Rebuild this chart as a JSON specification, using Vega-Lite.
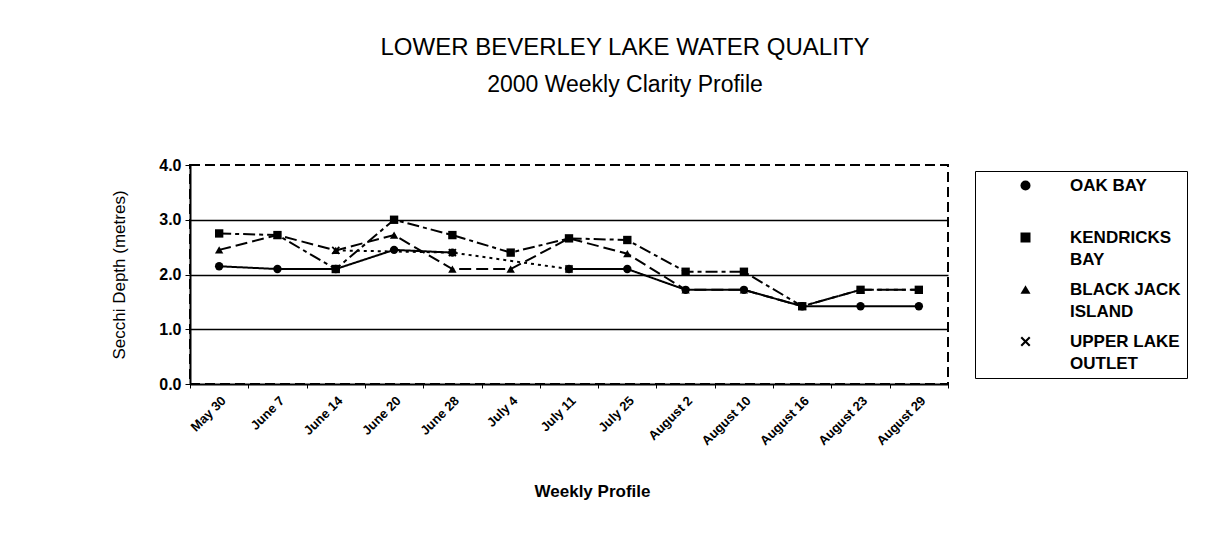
{
  "$schema": "https://vega.github.io/schema/vega-lite/v6.json",
  "width": 758,
  "height": 219,
  "autosize": {"type": "none"},
  "padding": {"left": 190, "top": 165, "right": 278, "bottom": 168},
  "background": "white",
  "title": {
    "text": "LOWER BEVERLEY LAKE WATER QUALITY",
    "subtitle": "2000 Weekly Clarity Profile",
    "font": "Liberation Sans",
    "fontSize": 24,
    "fontWeight": "normal",
    "color": "black",
    "subtitleFont": "Liberation Sans",
    "subtitleFontSize": 23,
    "subtitleColor": "black",
    "anchor": "middle",
    "frame": "group",
    "dx": 56,
    "offset": 60,
    "subtitlePadding": 14
  },
  "data": {
    "values": [
      {"week": "May 30", "site": "OAK BAY", "depth": 2.15},
      {"week": "June 7", "site": "OAK BAY", "depth": 2.1},
      {"week": "June 14", "site": "OAK BAY", "depth": 2.1},
      {"week": "June 20", "site": "OAK BAY", "depth": 2.45},
      {"week": "June 28", "site": "OAK BAY", "depth": 2.4},
      {"week": "July 4", "site": "OAK BAY", "depth": null},
      {"week": "July 11", "site": "OAK BAY", "depth": 2.1},
      {"week": "July 25", "site": "OAK BAY", "depth": 2.1},
      {"week": "August 2", "site": "OAK BAY", "depth": 1.72},
      {"week": "August 10", "site": "OAK BAY", "depth": 1.72},
      {"week": "August 16", "site": "OAK BAY", "depth": 1.42},
      {"week": "August 23", "site": "OAK BAY", "depth": 1.42},
      {"week": "August 29", "site": "OAK BAY", "depth": 1.42},
      {"week": "May 30", "site": "KENDRICKS BAY", "depth": 2.75},
      {"week": "June 7", "site": "KENDRICKS BAY", "depth": 2.72},
      {"week": "June 14", "site": "KENDRICKS BAY", "depth": 2.1},
      {"week": "June 20", "site": "KENDRICKS BAY", "depth": 3.0},
      {"week": "June 28", "site": "KENDRICKS BAY", "depth": 2.72},
      {"week": "July 4", "site": "KENDRICKS BAY", "depth": 2.4},
      {"week": "July 11", "site": "KENDRICKS BAY", "depth": 2.66},
      {"week": "July 25", "site": "KENDRICKS BAY", "depth": 2.63},
      {"week": "August 2", "site": "KENDRICKS BAY", "depth": 2.05},
      {"week": "August 10", "site": "KENDRICKS BAY", "depth": 2.05},
      {"week": "August 16", "site": "KENDRICKS BAY", "depth": 1.42},
      {"week": "August 23", "site": "KENDRICKS BAY", "depth": 1.72},
      {"week": "August 29", "site": "KENDRICKS BAY", "depth": 1.72},
      {"week": "May 30", "site": "BLACK JACK ISLAND", "depth": 2.45},
      {"week": "June 7", "site": "BLACK JACK ISLAND", "depth": 2.72},
      {"week": "June 14", "site": "BLACK JACK ISLAND", "depth": 2.44},
      {"week": "June 20", "site": "BLACK JACK ISLAND", "depth": 2.72},
      {"week": "June 28", "site": "BLACK JACK ISLAND", "depth": 2.1},
      {"week": "July 4", "site": "BLACK JACK ISLAND", "depth": 2.1},
      {"week": "July 11", "site": "BLACK JACK ISLAND", "depth": 2.66},
      {"week": "July 25", "site": "BLACK JACK ISLAND", "depth": 2.38},
      {"week": "August 2", "site": "BLACK JACK ISLAND", "depth": 1.72},
      {"week": "August 10", "site": "BLACK JACK ISLAND", "depth": 1.72},
      {"week": "August 16", "site": "BLACK JACK ISLAND", "depth": 1.42},
      {"week": "August 23", "site": "BLACK JACK ISLAND", "depth": 1.72},
      {"week": "August 29", "site": "BLACK JACK ISLAND", "depth": 1.72},
      {"week": "June 14", "site": "UPPER LAKE OUTLET", "depth": 2.44},
      {"week": "June 28", "site": "UPPER LAKE OUTLET", "depth": 2.4},
      {"week": "July 11", "site": "UPPER LAKE OUTLET", "depth": 2.1}
    ]
  },
  "encoding": {
    "x": {
      "field": "week",
      "type": "ordinal",
      "sort": ["May 30", "June 7", "June 14", "June 20", "June 28", "July 4", "July 11", "July 25", "August 2", "August 10", "August 16", "August 23", "August 29"],
      "scale": {"type": "band", "paddingInner": 0, "paddingOuter": 0},
      "axis": {
        "title": "Weekly Profile",
        "titleFont": "Liberation Sans",
        "titleFontSize": 17,
        "titleFontWeight": "bold",
        "titleColor": "black",
        "titleX": 402,
        "titleY": 99,
        "labelAngle": -45,
        "labelFont": "Liberation Sans",
        "labelFontSize": 13,
        "labelFontWeight": "bold",
        "labelColor": "black",
        "labelPadding": 6,
        "tickBand": "extent",
        "tickSize": 4,
        "tickColor": "black",
        "domainColor": "black",
        "domainWidth": 2
      }
    },
    "y": {
      "field": "depth",
      "type": "quantitative",
      "scale": {"domain": [0, 4]},
      "axis": {
        "title": "Secchi Depth (metres)",
        "titleFont": "Liberation Sans",
        "titleFontSize": 17,
        "titleFontWeight": "normal",
        "titleColor": "black",
        "titleX": -62,
        "values": [0, 1, 2, 3, 4],
        "format": ".1f",
        "labelFont": "Liberation Sans",
        "labelFontSize": 16,
        "labelFontWeight": "bold",
        "labelColor": "black",
        "labelPadding": 4,
        "tickSize": 5,
        "tickColor": "black",
        "domainColor": "black",
        "domainWidth": 2,
        "grid": true,
        "gridColor": "black",
        "gridWidth": 1.5,
        "gridOpacity": {"condition": {"test": "datum.value == 0 || datum.value == 4", "value": 0}, "value": 1}
      }
    }
  },
  "layer": [
    {
      "mark": {"type": "line", "color": "black", "strokeWidth": 2, "invalid": "break-paths-show-domains"},
      "encoding": {
        "strokeDash": {
          "field": "site",
          "type": "nominal",
          "scale": {
            "domain": ["OAK BAY", "KENDRICKS BAY", "BLACK JACK ISLAND", "UPPER LAKE OUTLET"],
            "range": [[1, 0], [12, 4, 4, 4], [12, 5], [3, 4]]
          },
          "legend": {
            "title": null,
            "orient": "none",
            "legendX": 785,
            "legendY": 6,
            "strokeColor": "black",
            "fillColor": "white",
            "padding": 6,
            "symbolSize": 100,
            "symbolOffset": 36,
            "symbolStrokeWidth": 0,
            "symbolStrokeColor": "black",
            "symbolFillColor": "black",
            "labelOffset": 36,
            "labelFont": "Liberation Sans",
            "labelFontSize": 17,
            "labelFontWeight": "bold",
            "labelColor": "black",
            "labelLimit": 0,
            "labelBaseline": "top",
            "rowPadding": 12,
            "labelExpr": "datum.label == 'OAK BAY' ? ['OAK BAY', ' '] : datum.label == 'KENDRICKS BAY' ? ['KENDRICKS', 'BAY'] : datum.label == 'BLACK JACK ISLAND' ? ['BLACK JACK', 'ISLAND'] : ['UPPER LAKE', 'OUTLET']",
            "encode": {
              "labels": {"update": {"dy": {"value": -8}, "lineHeight": {"value": 22}}}
            }
          }
        }
      }
    },
    {
      "mark": {"type": "point", "filled": true, "color": "black", "opacity": 1, "size": 70},
      "encoding": {
        "shape": {
          "field": "site",
          "type": "nominal",
          "scale": {
            "domain": ["OAK BAY", "KENDRICKS BAY", "BLACK JACK ISLAND", "UPPER LAKE OUTLET"],
            "range": ["circle", "square", "triangle-up", "M-1,-0.7L-0.7,-1L0,-0.3L0.7,-1L1,-0.7L0.3,0L1,0.7L0.7,1L0,0.3L-0.7,1L-1,0.7L-0.3,0Z"]
          },
          "legend": null
        }
      }
    }
  ],
  "config": {
    "view": {"stroke": "black", "strokeWidth": 2, "strokeDash": [10, 5]}
  }
}
